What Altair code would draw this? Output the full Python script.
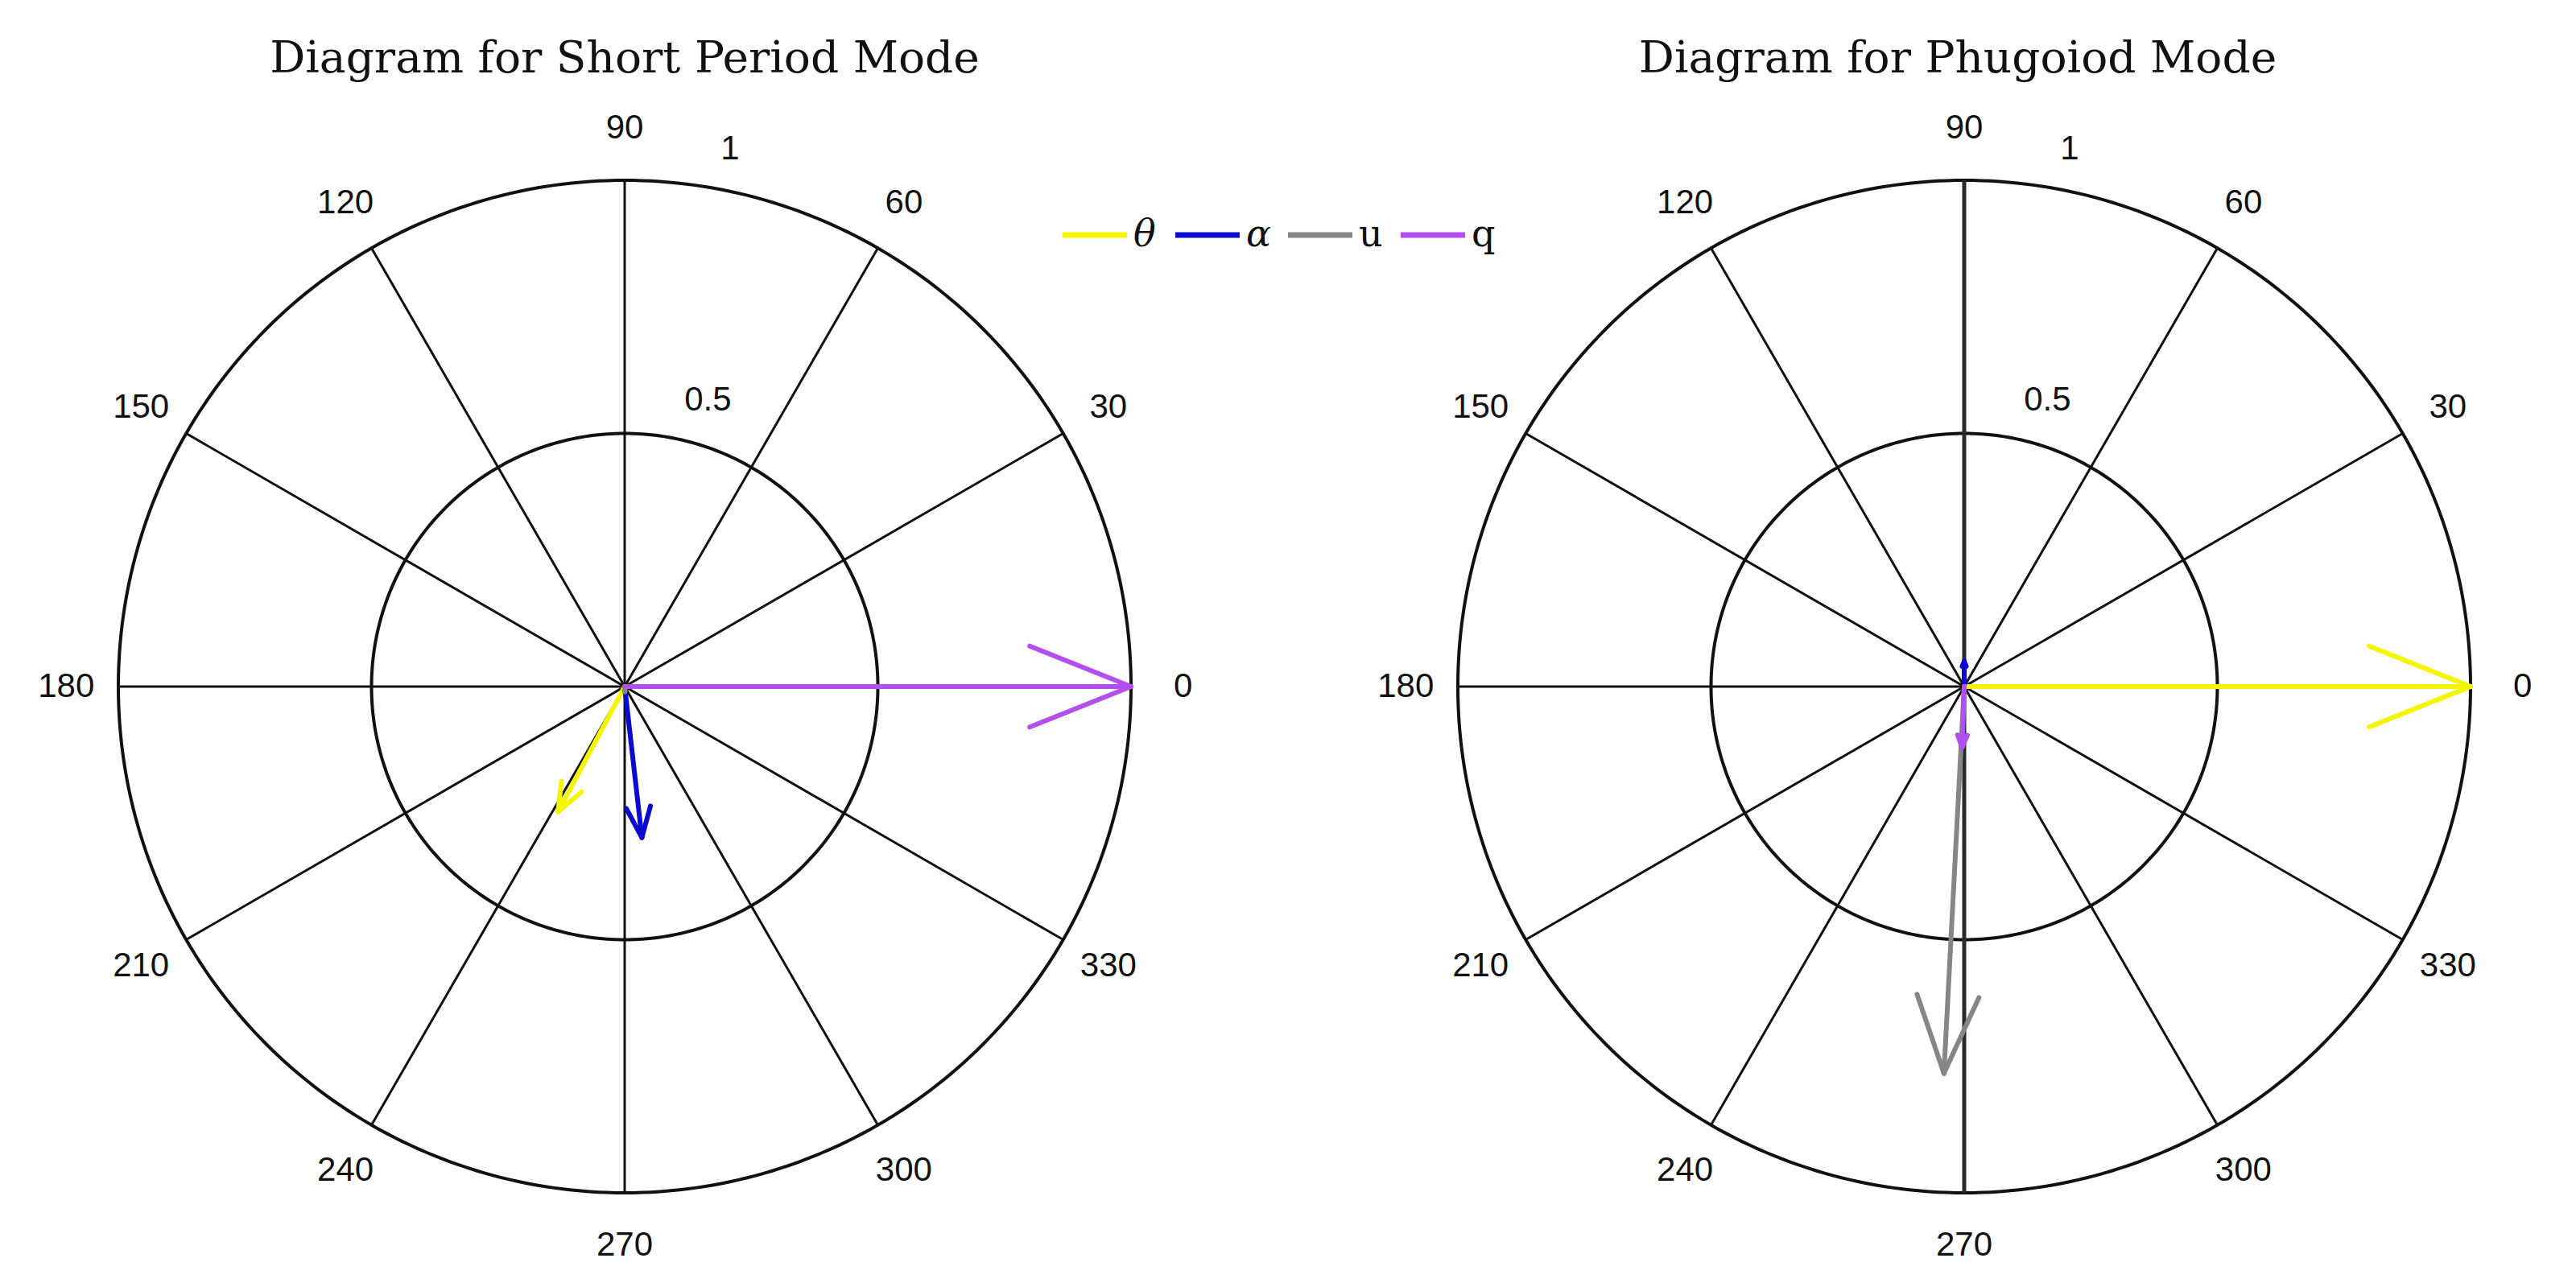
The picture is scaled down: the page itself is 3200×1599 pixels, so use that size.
import altair as alt
import numpy as np
import pandas as pd

# ---------------- data ----------------
panel_titles = ["Diagram for Short Period Mode", "Diagram for Phugoiod Mode"]
series = ["θ", "α", "u", "q"]
series_italic = [True, True, False, False]
series_colors = ["#f5f500", "#0b0bd0", "#868686", "#b24ff0"]

# magnitudes (normalised) and phase angles (deg)
short_mag = [0.28, 0.30, 0.01, 1.00]
short_ang = [242.0, 276.5, 270.0, 0.0]
phug_mag = [1.00, 0.05, 0.765, 0.12]
phug_ang = [0.0, 90.0, 267.0, 268.0]

angle_ticks = [0, 30, 60, 90, 120, 150, 180, 210, 240, 270, 300, 330]
radial_ticks = [0.5, 1.0]
radial_tick_labels = ["0.5", "1"]

# ---------------- layout constants ----------------
W, H = 3184, 1583
PX = 629.0                      # pixels per unit radius
CX = [0.0, 1664.0 / PX]         # panel centres (data units)
X0 = -(776 - 8) / PX
Y1 = (853 - 8) / PX
XDOM = [X0, X0 + W / PX]
YDOM = [Y1 - H / PX, Y1]
LABEL_R = 1.103
RLAB_POS = [(0.589, 73.8), (1.082, 78.9)]   # (radius, angle) of radial tick labels
TITLE_Y = (853 - 90) / PX
TITLE_DX = [0.0, -8 / PX]

xs = alt.Scale(domain=XDOM, nice=False, zero=False)
ys = alt.Scale(domain=YDOM, nice=False, zero=False)
X = lambda f: alt.X(f, type="quantitative", scale=xs, axis=None)
Y = lambda f: alt.Y(f, type="quantitative", scale=ys, axis=None)

# ---------------- grid ----------------
circ_rows = []
t = np.radians(np.arange(0, 361, 1))
for p, cx in enumerate(CX):
    for r in radial_ticks:
        for i, a in enumerate(t):
            circ_rows.append(dict(key=f"{p}-{r}", o=i, x=cx + r * np.cos(a), y=r * np.sin(a)))
circ_df = pd.DataFrame(circ_rows)

spoke_rows = []
for p, cx in enumerate(CX):
    for a in angle_ticks:
        ar = np.radians(a)
        w = 5.0 if (p == 1 and a in (90, 270)) else 3.0
        col = "#2a2a2a" if (p == 1 and a in (90, 270)) else "#111111"
        spoke_rows.append(dict(x=cx, y=0.0, x2=cx + np.cos(ar), y2=np.sin(ar), w=w, c=col))
spoke_df = pd.DataFrame(spoke_rows)

lab_rows = []
for p, cx in enumerate(CX):
    for a in angle_ticks:
        ar = np.radians(a)
        lab_rows.append(dict(x=cx + LABEL_R * np.cos(ar), y=LABEL_R * np.sin(ar), txt=str(a)))
    for (rr, aa), txt in zip(RLAB_POS, radial_tick_labels):
        ar = np.radians(aa)
        lab_rows.append(dict(x=cx + rr * np.cos(ar), y=rr * np.sin(ar), txt=txt))
lab_df = pd.DataFrame(lab_rows)

title_df = pd.DataFrame(dict(x=[c + d for c, d in zip(CX, TITLE_DX)],
                             y=[TITLE_Y, TITLE_Y], txt=panel_titles))

# ---------------- arrows (compass) ----------------
arrow_rows = []
for p, (mags, angs) in enumerate([(short_mag, short_ang), (phug_mag, phug_ang)]):
    cx = CX[p]
    for s, m, a in zip(series, mags, angs):
        ar = np.radians(a)
        c, si = np.cos(ar), np.sin(ar)
        tx, ty = cx + m * c, m * si
        arrow_rows.append(dict(s=s, x=cx, y=0.0, x2=tx, y2=ty))
        for sg in (1, -1):
            hx, hy = 0.8 * m, sg * 0.08 * m
            arrow_rows.append(dict(s=s, x=tx, y=ty,
                                   x2=cx + hx * c - hy * si, y2=hx * si + hy * c))
arrow_df = pd.DataFrame(arrow_rows)

color = alt.Color("s:N", scale=alt.Scale(domain=series, range=series_colors), legend=None)

# ---------------- legend ----------------
LEG_X0 = (1320 - 776) / PX
LEG_PITCH = 140 / PX
LEG_LEN = 80 / PX
LEG_Y = (853 - 292) / PX
leg_rows = []
for i, (s, it) in enumerate(zip(series, series_italic)):
    x = LEG_X0 + i * LEG_PITCH
    leg_rows.append(dict(s=s, x=x, x2=x + LEG_LEN, y=LEG_Y, tx=x + LEG_LEN + 8 / PX,
                         it="italic" if it else "normal"))
leg_df = pd.DataFrame(leg_rows)

# ---------------- layers ----------------
circles = alt.Chart(circ_df).mark_line(color="#111111", strokeWidth=4).encode(
    x=X("x"), y=Y("y"), detail="key:N", order="o:Q")
spokes = alt.Chart(spoke_df).mark_rule().encode(
    x=X("x"), y=Y("y"), x2="x2", y2="y2",
    strokeWidth=alt.StrokeWidth("w:Q", scale=None),
    color=alt.Color("c:N", scale=None))
labels = alt.Chart(lab_df).mark_text(font="Liberation Sans", fontSize=42, color="#111111",
                                     align="center", baseline="middle").encode(
    x=X("x"), y=Y("y"), text="txt:N")
titles = alt.Chart(title_df).mark_text(font="DejaVu Serif", fontSize=55, color="#111111",
                                       align="center", baseline="alphabetic").encode(
    x=X("x"), y=Y("y"), text="txt:N")
arrows = alt.Chart(arrow_df).mark_rule(strokeWidth=6, strokeCap="round").encode(
    x=X("x"), y=Y("y"), x2="x2", y2="y2", color=color)
leg_lines = alt.Chart(leg_df).mark_rule(strokeWidth=7).encode(
    x=X("x"), x2="x2", y=Y("y"), color=color)
leg_it = alt.Chart(leg_df).transform_filter("datum.it == 'italic'").mark_text(
    font="DejaVu Serif", fontStyle="italic", fontSize=46, color="#111111",
    align="left", baseline="middle").encode(x=X("tx"), y=Y("y"), text="s:N")
leg_up = alt.Chart(leg_df).transform_filter("datum.it == 'normal'").mark_text(
    font="DejaVu Serif", fontSize=46, color="#111111",
    align="left", baseline="middle").encode(x=X("tx"), y=Y("y"), text="s:N")

chart = alt.layer(circles, spokes, labels, titles, arrows, leg_lines, leg_it, leg_up).properties(
    width=W, height=H, padding=0,
    autosize=alt.AutoSizeParams(type="fit", contains="padding"),
    background="white",
).configure_view(stroke=None)

chart.save("out.html", embed_options={"renderer": "svg", "actions": False})
